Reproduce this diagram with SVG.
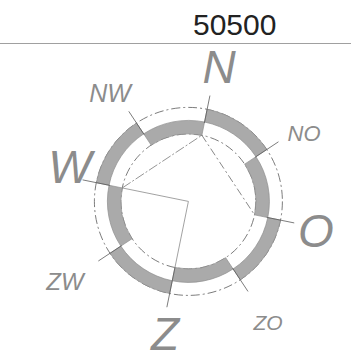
<svg xmlns="http://www.w3.org/2000/svg" width="351" height="360" viewBox="0 0 351 360">
<style>
.seg{fill:#aaaaaa;stroke:#8e8e8e;stroke-width:0.7}
.dash{fill:none;stroke:#5a5a5a;stroke-width:0.8;stroke-dasharray:9 3 2 3}
.tick{stroke:#5a5a5a;stroke-width:0.8}
.lbl{font-family:"Liberation Sans",Arial,sans-serif;font-style:italic;fill:#8c8c8c;text-anchor:middle}
.big{font-size:46px}
</style>
<rect width="351" height="360" fill="#fff"/>
<g id="title">
<text x="193" y="35" font-family="Liberation Sans, Arial, sans-serif" font-size="30" fill="#222">50500</text>
<line x1="0" y1="43.5" x2="351" y2="43.5" stroke="#a0a0a0" stroke-width="1.2"/>
</g>
<g id="circles">
<circle cx="188.4" cy="201.4" r="94" class="dash"/>
<circle cx="188.4" cy="201.4" r="67.5" class="dash"/>
</g>
<g id="ring">
<path class="seg" d="M207.14,109.29 A94,94 0 0 1 266.79,149.52 L255.95,156.69 A81,81 0 0 0 204.55,122.03 Z"/>
<path class="seg" d="M280.51,220.14 A94,94 0 0 1 240.28,279.79 L233.11,268.95 A81,81 0 0 0 267.77,217.55 Z"/>
<path class="seg" d="M169.66,293.51 A94,94 0 0 1 110.01,253.28 L120.85,246.11 A81,81 0 0 0 172.25,280.77 Z"/>
<path class="seg" d="M96.29,182.66 A94,94 0 0 1 136.52,123.01 L143.69,133.85 A81,81 0 0 0 109.03,185.25 Z"/>
<path class="seg" d="M255.95,156.69 A81,81 0 0 1 267.77,217.55 L254.54,214.86 A67.5,67.5 0 0 0 244.69,164.14 Z"/>
<path class="seg" d="M233.11,268.95 A81,81 0 0 1 172.25,280.77 L174.94,267.54 A67.5,67.5 0 0 0 225.66,257.69 Z"/>
<path class="seg" d="M120.85,246.11 A81,81 0 0 1 109.03,185.25 L122.26,187.94 A67.5,67.5 0 0 0 132.11,238.66 Z"/>
<path class="seg" d="M143.69,133.85 A81,81 0 0 1 204.55,122.03 L201.86,135.26 A67.5,67.5 0 0 0 151.14,145.11 Z"/>
</g>
<g id="connectors">
<line class="tick" x1="204.35" y1="123.01" x2="209.93" y2="95.57"/>
<line class="tick" x1="255.11" y1="157.24" x2="278.46" y2="141.79"/>
<line class="tick" x1="266.79" y1="217.35" x2="294.23" y2="222.93"/>
<line class="tick" x1="232.56" y1="268.11" x2="248.01" y2="291.46"/>
<line class="tick" x1="174.94" y1="267.54" x2="166.87" y2="307.23"/>
<line class="tick" x1="121.69" y1="245.56" x2="98.34" y2="261.01"/>
<line class="tick" x1="110.01" y1="185.45" x2="82.57" y2="179.87"/>
<line class="tick" x1="144.24" y1="134.69" x2="128.79" y2="111.34"/>
<polyline points="122.26,187.94 188.4,201.4 174.94,267.54" fill="none" stroke="#8a8a8a" stroke-width="0.8"/>
<line x1="122.26" y1="187.94" x2="201.86" y2="135.26" stroke="#7a7a7a" stroke-width="0.8" stroke-dasharray="10 2 2 2"/>
<line x1="201.86" y1="135.26" x2="254.54" y2="214.86" stroke="#6a6a6a" stroke-width="0.8" stroke-dasharray="8 3 2 3"/>
</g>
<g id="labels">
<text class="lbl big" x="219" y="83">N</text>
<text class="lbl big" x="70" y="183">W</text>
<text class="lbl big" x="316" y="247">O</text>
<text class="lbl big" x="165" y="350">Z</text>
<text class="lbl" font-size="25" x="110" y="102">NW</text>
<text class="lbl" font-size="22" x="304" y="141">NO</text>
<text class="lbl" font-size="24" x="65" y="290">ZW</text>
<text class="lbl" font-size="21" x="268" y="330">ZO</text>
</g>
</svg>
